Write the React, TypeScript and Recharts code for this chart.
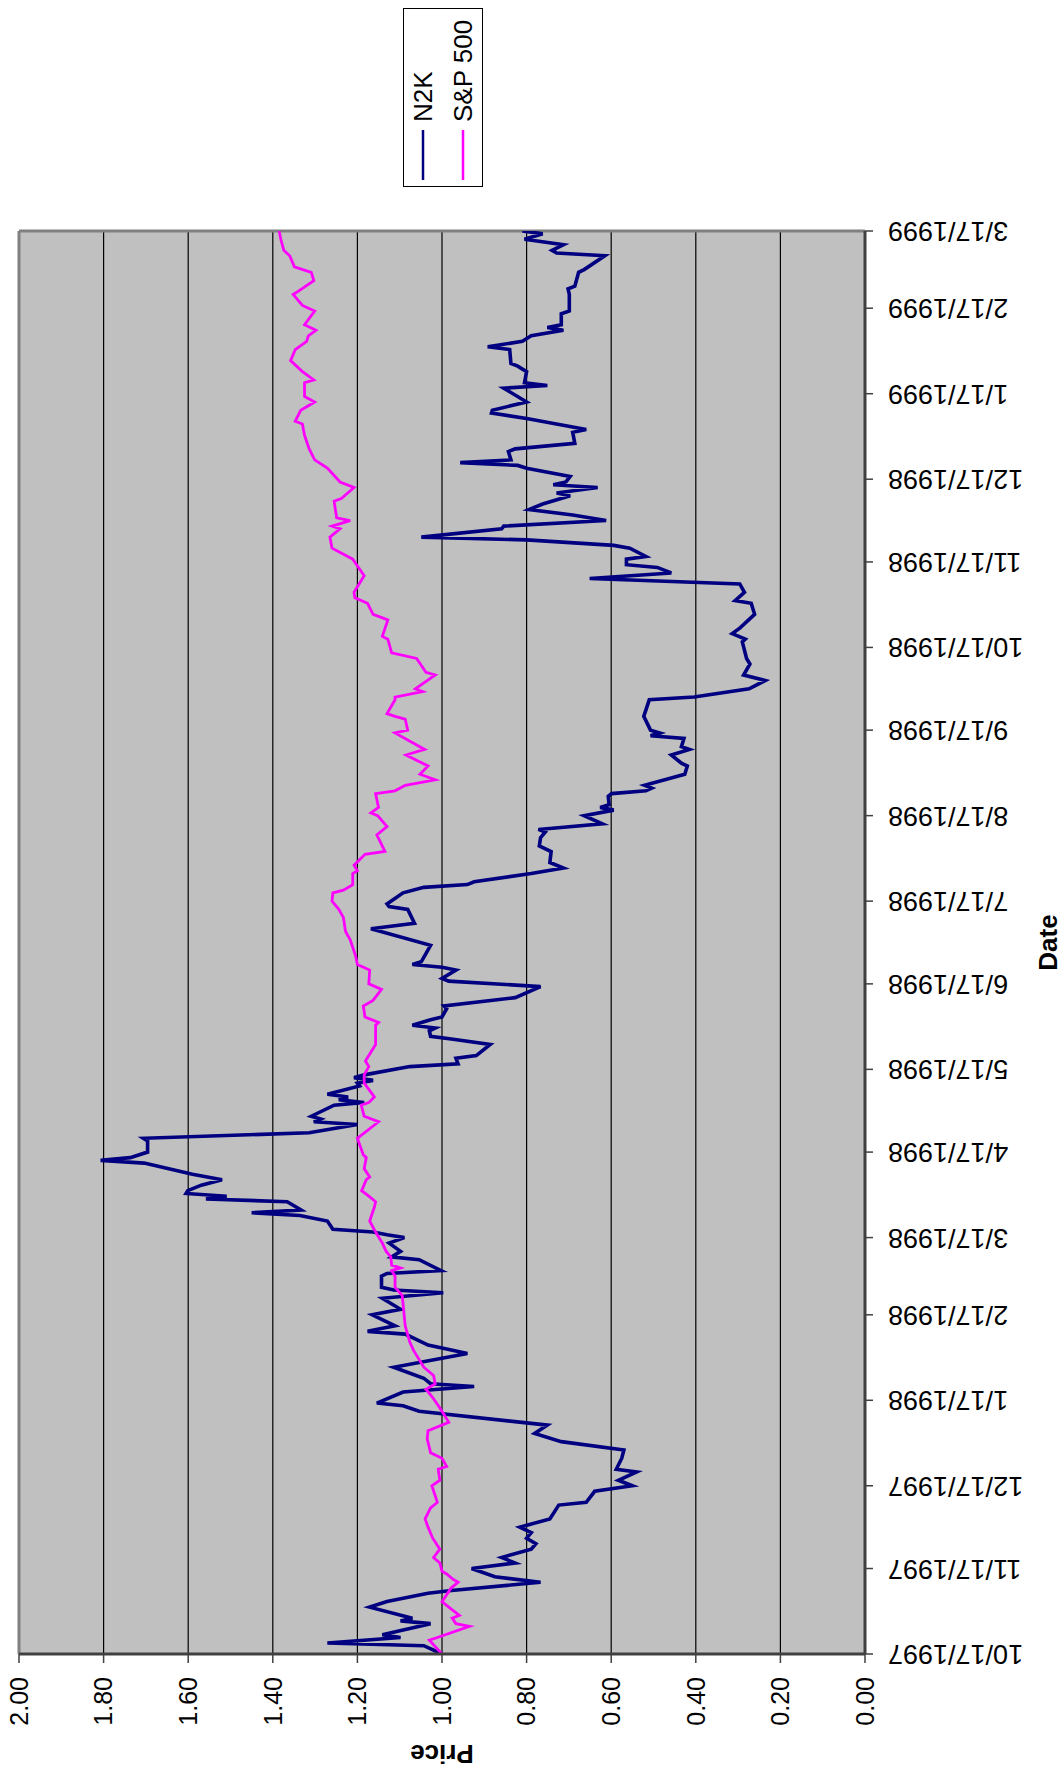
import { LineChart, Line, XAxis, YAxis, CartesianGrid, ReferenceLine } from "recharts";

// month ticks on the date axis
const DATE_TICKS = [
  "10/17/1997", "11/17/1997", "12/17/1997", "1/17/1998", "2/17/1998", "3/17/1998",
  "4/17/1998", "5/17/1998", "6/17/1998", "7/17/1998", "8/17/1998", "9/17/1998",
  "10/17/1998", "11/17/1998", "12/17/1998", "1/17/1999", "2/17/1999", "3/17/1999",
];

const PRICE_TICKS = [0, 0.2, 0.4, 0.6, 0.8, 1.0, 1.2, 1.4, 1.6, 1.8, 2.0];

// [date, relative price] read off the chart
const N2K: [string, number][] = [
  ["10/17/1997", 1.0], ["10/20/1997", 1.043], ["10/21/1997", 1.271], ["10/23/1997", 1.098],
  ["10/24/1997", 1.141], ["10/28/1997", 1.027], ["10/29/1997", 1.098], ["10/30/1997", 1.07],
  ["11/3/1997", 1.171], ["11/5/1997", 1.13], ["11/8/1997", 1.033], ["11/9/1997", 0.978],
  ["11/12/1997", 0.767], ["11/14/1997", 0.875], ["11/17/1997", 0.93], ["11/19/1997", 0.827],
  ["11/21/1997", 0.859], ["11/24/1997", 0.789], ["11/26/1997", 0.778], ["11/28/1997", 0.8],
  ["11/30/1997", 0.789], ["12/2/1997", 0.816], ["12/5/1997", 0.745], ["12/10/1997", 0.724],
  ["12/11/1997", 0.659], ["12/15/1997", 0.639], ["12/17/1997", 0.55], ["12/19/1997", 0.583],
  ["12/22/1997", 0.54], ["12/23/1997", 0.588], ["12/27/1997", 0.575], ["12/30/1997", 0.57],
  ["1/2/1998", 0.718], ["1/5/1998", 0.781], ["1/8/1998", 0.751], ["1/13/1998", 1.054],
  ["1/15/1998", 1.092], ["1/16/1998", 1.154], ["1/20/1998", 1.092], ["1/22/1998", 0.924],
  ["1/23/1998", 1.027], ["1/25/1998", 1.043], ["1/29/1998", 1.114], ["2/3/1998", 0.94],
  ["2/5/1998", 1.0], ["2/6/1998", 1.033], ["2/10/1998", 1.087], ["2/11/1998", 1.176],
  ["2/13/1998", 1.111], ["2/17/1998", 1.165], ["2/19/1998", 1.098], ["2/23/1998", 1.141],
  ["2/25/1998", 0.997], ["2/26/1998", 1.114], ["2/27/1998", 1.143], ["3/3/1998", 1.143],
  ["3/4/1998", 1.13], ["3/5/1998", 1.002], ["3/9/1998", 1.054], ["3/10/1998", 1.119],
  ["3/12/1998", 1.098], ["3/15/1998", 1.125], ["3/17/1998", 1.089], ["3/18/1998", 1.13],
  ["3/19/1998", 1.163], ["3/20/1998", 1.258], ["3/23/1998", 1.271], ["3/25/1998", 1.336],
  ["3/26/1998", 1.45], ["3/27/1998", 1.333], ["3/30/1998", 1.366], ["3/31/1998", 1.558],
  ["4/1/1998", 1.509], ["4/2/1998", 1.605], ["4/3/1998", 1.601], ["4/5/1998", 1.569],
  ["4/7/1998", 1.52], ["4/9/1998", 1.59], ["4/13/1998", 1.704], ["4/14/1998", 1.807],
  ["4/15/1998", 1.737], ["4/17/1998", 1.696], ["4/21/1998", 1.696], ["4/22/1998", 1.706],
  ["4/24/1998", 1.314], ["4/27/1998", 1.2], ["4/28/1998", 1.303], ["4/29/1998", 1.287],
  ["4/30/1998", 1.309], ["5/4/1998", 1.255], ["5/5/1998", 1.184], ["5/6/1998", 1.244],
  ["5/7/1998", 1.222], ["5/8/1998", 1.271], ["5/11/1998", 1.195], ["5/12/1998", 1.2],
  ["5/13/1998", 1.163], ["5/14/1998", 1.208], ["5/15/1998", 1.184], ["5/18/1998", 1.076],
  ["5/19/1998", 0.962], ["5/21/1998", 0.967], ["5/22/1998", 0.919], ["5/26/1998", 0.886],
  ["5/28/1998", 0.978], ["5/29/1998", 1.027], ["5/31/1998", 1.03], ["6/1/1998", 1.016],
  ["6/2/1998", 1.07], ["6/4/1998", 1.027], ["6/5/1998", 1.0], ["6/8/1998", 0.989],
  ["6/9/1998", 0.995], ["6/12/1998", 0.827], ["6/16/1998", 0.767], ["6/18/1998", 0.984],
  ["6/19/1998", 1.0], ["6/22/1998", 0.967], ["6/23/1998", 1.0], ["6/24/1998", 1.07],
  ["6/25/1998", 1.049], ["7/1/1998", 1.027], ["7/7/1998", 1.168], ["7/9/1998", 1.065],
  ["7/14/1998", 1.081], ["7/15/1998", 1.125], ["7/16/1998", 1.13], ["7/20/1998", 1.092],
  ["7/22/1998", 1.043], ["7/23/1998", 0.94], ["7/24/1998", 0.924], ["7/27/1998", 0.789],
  ["7/29/1998", 0.713], ["7/31/1998", 0.745], ["8/4/1998", 0.742], ["8/6/1998", 0.77],
  ["8/9/1998", 0.767], ["8/11/1998", 0.756], ["8/12/1998", 0.772], ["8/14/1998", 0.621],
  ["8/17/1998", 0.664], ["8/19/1998", 0.594], ["8/20/1998", 0.626], ["8/21/1998", 0.605],
  ["8/24/1998", 0.607], ["8/25/1998", 0.599], ["8/26/1998", 0.518], ["8/27/1998", 0.504],
  ["8/28/1998", 0.521], ["9/1/1998", 0.426], ["9/4/1998", 0.42], ["9/5/1998", 0.434],
  ["9/8/1998", 0.458], ["9/10/1998", 0.415], ["9/11/1998", 0.434], ["9/14/1998", 0.428],
  ["9/15/1998", 0.507], ["9/16/1998", 0.485], ["9/17/1998", 0.507], ["9/22/1998", 0.523],
  ["9/28/1998", 0.51], ["9/29/1998", 0.404], ["10/2/1998", 0.274], ["10/5/1998", 0.236],
  ["10/7/1998", 0.287], ["10/11/1998", 0.272], ["10/13/1998", 0.28], ["10/19/1998", 0.29],
  ["10/20/1998", 0.283], ["10/22/1998", 0.314], ["10/24/1998", 0.296], ["10/29/1998", 0.261],
  ["11/2/1998", 0.269], ["11/3/1998", 0.307], ["11/6/1998", 0.285], ["11/9/1998", 0.296],
  ["11/11/1998", 0.651], ["11/13/1998", 0.458], ["11/15/1998", 0.491], ["11/16/1998", 0.564],
  ["11/18/1998", 0.564], ["11/19/1998", 0.518], ["11/22/1998", 0.556], ["11/23/1998", 0.594],
  ["11/25/1998", 0.8], ["11/26/1998", 1.049], ["11/29/1998", 0.859], ["11/30/1998", 0.854],
  ["12/2/1998", 0.612], ["12/4/1998", 0.691], ["12/6/1998", 0.794], ["12/8/1998", 0.762],
  ["12/11/1998", 0.697], ["12/12/1998", 0.729], ["12/14/1998", 0.632], ["12/15/1998", 0.737],
  ["12/16/1998", 0.707], ["12/18/1998", 0.697], ["12/21/1998", 0.8], ["12/22/1998", 0.821],
  ["12/23/1998", 0.957], ["12/24/1998", 0.837], ["12/27/1998", 0.843], ["12/28/1998", 0.827],
  ["12/30/1998", 0.686], ["1/3/1999", 0.691], ["1/4/1999", 0.659], ["1/8/1999", 0.8],
  ["1/10/1999", 0.883], ["1/11/1999", 0.881], ["1/14/1999", 0.8], ["1/19/1999", 0.854],
  ["1/20/1999", 0.751], ["1/21/1999", 0.805], ["1/25/1999", 0.8], ["1/27/1999", 0.821],
  ["1/28/1999", 0.837], ["2/2/1999", 0.84], ["2/3/1999", 0.892], ["2/5/1999", 0.81],
  ["2/7/1999", 0.789], ["2/9/1999", 0.713], ["2/10/1999", 0.751], ["2/11/1999", 0.718],
  ["2/15/1999", 0.718], ["2/16/1999", 0.699], ["2/22/1999", 0.699], ["2/24/1999", 0.702],
  ["2/25/1999", 0.686], ["3/2/1999", 0.677], ["3/3/1999", 0.664], ["3/8/1999", 0.615],
  ["3/9/1999", 0.729], ["3/10/1999", 0.74], ["3/12/1999", 0.713], ["3/14/1999", 0.805],
  ["3/16/1999", 0.762], ["3/17/1999", 0.81],
];

const SP500: [string, number][] = [
  ["10/17/1997", 1.0], ["10/22/1997", 1.03], ["10/23/1997", 1.011], ["10/27/1997", 0.935],
  ["10/28/1997", 0.967], ["10/30/1997", 0.976], ["10/31/1997", 0.959], ["11/3/1997", 0.984],
  ["11/5/1997", 1.0], ["11/10/1997", 0.978], ["11/12/1997", 0.962], ["11/13/1997", 0.973],
  ["11/15/1997", 0.989], ["11/16/1997", 1.0], ["11/19/1997", 1.005], ["11/21/1997", 1.02],
  ["11/24/1997", 1.005], ["11/28/1997", 1.022], ["12/2/1997", 1.033], ["12/5/1997", 1.04],
  ["12/9/1997", 1.027], ["12/11/1997", 1.011], ["12/17/1997", 1.024], ["12/19/1997", 1.005],
  ["12/23/1997", 1.009], ["12/24/1997", 0.989], ["12/27/1997", 1.0], ["12/29/1997", 1.027],
  ["1/3/1998", 1.035], ["1/6/1998", 1.033], ["1/9/1998", 0.984], ["1/13/1998", 1.0],
  ["1/16/1998", 1.013], ["1/18/1998", 1.022], ["1/21/1998", 1.038], ["1/23/1998", 1.016],
  ["1/26/1998", 1.02], ["1/29/1998", 1.043], ["2/4/1998", 1.067], ["2/7/1998", 1.076],
  ["2/13/1998", 1.087], ["2/24/1998", 1.094], ["2/27/1998", 1.111], ["3/3/1998", 1.111],
  ["3/5/1998", 1.119], ["3/6/1998", 1.098], ["3/7/1998", 1.119], ["3/10/1998", 1.121],
  ["3/12/1998", 1.132], ["3/15/1998", 1.141], ["3/19/1998", 1.157], ["3/23/1998", 1.171],
  ["3/28/1998", 1.16], ["3/30/1998", 1.157], ["4/1/1998", 1.173], ["4/3/1998", 1.19],
  ["4/7/1998", 1.179], ["4/8/1998", 1.171], ["4/11/1998", 1.184], ["4/15/1998", 1.179],
  ["4/16/1998", 1.186], ["4/22/1998", 1.2], ["4/28/1998", 1.15], ["4/30/1998", 1.184],
  ["5/4/1998", 1.191], ["5/5/1998", 1.173], ["5/7/1998", 1.16], ["5/12/1998", 1.184],
  ["5/15/1998", 1.184], ["5/18/1998", 1.173], ["5/20/1998", 1.181], ["5/26/1998", 1.157],
  ["6/2/1998", 1.157], ["6/3/1998", 1.15], ["6/5/1998", 1.182], ["6/9/1998", 1.186],
  ["6/11/1998", 1.163], ["6/15/1998", 1.143], ["6/17/1998", 1.173], ["6/22/1998", 1.171],
  ["6/24/1998", 1.2], ["6/27/1998", 1.204], ["7/3/1998", 1.217], ["7/6/1998", 1.228],
  ["7/11/1998", 1.233], ["7/14/1998", 1.244], ["7/17/1998", 1.26], ["7/20/1998", 1.258],
  ["7/21/1998", 1.233], ["7/23/1998", 1.211], ["7/27/1998", 1.211], ["7/28/1998", 1.2],
  ["7/30/1998", 1.208], ["8/3/1998", 1.182], ["8/4/1998", 1.135], ["8/10/1998", 1.154],
  ["8/13/1998", 1.13], ["8/17/1998", 1.152], ["8/18/1998", 1.168], ["8/20/1998", 1.15],
  ["8/25/1998", 1.157], ["8/26/1998", 1.111], ["8/28/1998", 1.087], ["8/30/1998", 1.016],
  ["9/1/1998", 1.052], ["9/4/1998", 1.033], ["9/8/1998", 1.085], ["9/10/1998", 1.041],
  ["9/16/1998", 1.111], ["9/17/1998", 1.081], ["9/21/1998", 1.087], ["9/22/1998", 1.111],
  ["9/23/1998", 1.13], ["9/28/1998", 1.111], ["9/29/1998", 1.111], ["10/1/1998", 1.046],
  ["10/2/1998", 1.063], ["10/7/1998", 1.016], ["10/8/1998", 1.038], ["10/13/1998", 1.06],
  ["10/15/1998", 1.119], ["10/20/1998", 1.128], ["10/21/1998", 1.141], ["10/27/1998", 1.128],
  ["10/29/1998", 1.163], ["11/2/1998", 1.176], ["11/4/1998", 1.206], ["11/6/1998", 1.208],
  ["11/12/1998", 1.184], ["11/18/1998", 1.211], ["11/22/1998", 1.26], ["11/26/1998", 1.265],
  ["11/29/1998", 1.241], ["11/30/1998", 1.26], ["12/2/1998", 1.217], ["12/3/1998", 1.249],
  ["12/9/1998", 1.255], ["12/10/1998", 1.238], ["12/14/1998", 1.208], ["12/16/1998", 1.241],
  ["12/21/1998", 1.271], ["12/24/1998", 1.301], ["12/28/1998", 1.314], ["1/2/1999", 1.325],
  ["1/6/1999", 1.33], ["1/7/1999", 1.347], ["1/11/1999", 1.334], ["1/14/1999", 1.301],
  ["1/16/1999", 1.325], ["1/21/1999", 1.325], ["1/22/1999", 1.303], ["1/25/1999", 1.33],
  ["1/29/1999", 1.358], ["2/2/1999", 1.347], ["2/5/1999", 1.32], ["2/7/1999", 1.316],
  ["2/9/1999", 1.298], ["2/11/1999", 1.325], ["2/16/1999", 1.301], ["2/18/1999", 1.33],
  ["2/22/1999", 1.352], ["2/23/1999", 1.341], ["2/27/1999", 1.303], ["3/2/1999", 1.309],
  ["3/4/1999", 1.349], ["3/8/1999", 1.36], ["3/10/1999", 1.374], ["3/14/1999", 1.381],
  ["3/17/1999", 1.385],
];

const toTime = (s: string) => {
  const [m, d, y] = s.split("/").map(Number);
  return Date.UTC(y, m - 1, d);
};
const fmtDate = (t: number) => {
  const d = new Date(t);
  return `${d.getUTCMonth() + 1}/${d.getUTCDate()}/${d.getUTCFullYear()}`;
};

const tickTimes = DATE_TICKS.map(toTime);
const n2kData = N2K.map(([date, v]) => ({ t: toTime(date), v }));
const spData = SP500.map(([date, v]) => ({ t: toTime(date), v }));

// the chart is drawn upright, then the whole box is turned a quarter to the left
const W = 1775;
const H = 1062;
const FONT = "Arial, 'Liberation Sans', sans-serif";
const PLOT_LEFT = 121;
const PLOT_RIGHT = 1544;
const PLOT_TOP = 19;
const PLOT_BOTTOM = 865;

const DateTick = ({ x, y, payload }: any) => (
  <text
    x={x}
    y={y + 13}
    transform={`rotate(-90, ${x}, ${y + 13})`}
    textAnchor="end"
    dominantBaseline="central"
    fontSize={27}
    fontFamily={FONT}
    fill="#000"
  >
    {fmtDate(payload.value)}
  </text>
);

const DateTitle = () => (
  <text
    x={(PLOT_LEFT + PLOT_RIGHT) / 2}
    y={1048}
    textAnchor="middle"
    dominantBaseline="central"
    fontSize={26}
    fontWeight="bold"
    fontFamily={FONT}
    fill="#000"
  >
    Date
  </text>
);

const PriceTitle = () => {
  const cx = 21;
  const cy = (PLOT_TOP + PLOT_BOTTOM) / 2;
  return (
    <text
      x={cx}
      y={cy}
      transform={`rotate(-90, ${cx}, ${cy})`}
      textAnchor="middle"
      dominantBaseline="central"
      fontSize={26}
      fontWeight="bold"
      fontFamily={FONT}
      fill="#000"
    >
      Price
    </text>
  );
};

function LegendBox() {
  return (
    <div
      style={{
        position: "absolute",
        left: 1588,
        top: 403,
        width: 179,
        height: 80,
        border: "1.5px solid #000",
        boxSizing: "border-box",
        background: "#fff",
      }}
    >
      <svg width={176} height={77} style={{ display: "block" }}>
        <line x1={6} x2={56} y1={19} y2={19} stroke="#000080" strokeWidth={2.5} />
        <text x={64} y={19} dominantBaseline="central" fontSize={26} fontFamily={FONT} fill="#000">
          N2K
        </text>
        <line x1={6} x2={56} y1={59} y2={59} stroke="#FF00FF" strokeWidth={2.5} />
        <text x={64} y={59} dominantBaseline="central" fontSize={26} fontFamily={FONT} fill="#000">
          S&amp;P 500
        </text>
      </svg>
    </div>
  );
}

export default function App() {
  const start = tickTimes[0];
  const end = tickTimes[tickTimes.length - 1];
  return (
    <div
      style={{
        position: "absolute",
        left: 0,
        top: 0,
        width: H,
        height: W,
        overflow: "hidden",
        background: "#fff",
      }}
    >
      <div
        style={{
          position: "absolute",
          left: 0,
          top: 0,
          width: W,
          height: H,
          transformOrigin: "0 0",
          transform: `translate(0px, ${W}px) rotate(-90deg)`,
        }}
      >
        <LineChart
          width={W}
          height={H}
          margin={{ top: PLOT_TOP, right: W - PLOT_RIGHT, bottom: 0, left: PLOT_LEFT - 80 }}
          style={{ fontFamily: FONT }}
        >
          <CartesianGrid vertical={false} stroke="#000" strokeWidth={1.2} fill="#C0C0C0" fillOpacity={1} />
          <XAxis
            type="number"
            dataKey="t"
            domain={[start, end]}
            ticks={tickTimes}
            interval={0}
            allowDataOverflow
            height={H - PLOT_BOTTOM}
            tickSize={8}
            tick={<DateTick />}
            axisLine={{ stroke: "#404040", strokeWidth: 3 }}
            tickLine={{ stroke: "#404040", strokeWidth: 1.5 }}
            label={{ content: () => <DateTitle /> }}
          />
          <YAxis
            type="number"
            domain={[0, 2]}
            ticks={PRICE_TICKS}
            interval={0}
            width={80}
            tickSize={9}
            tickMargin={14}
            tickFormatter={(v: number) => v.toFixed(2)}
            tick={{ fontSize: 25, fill: "#000", fontFamily: FONT }}
            axisLine={{ stroke: "#404040", strokeWidth: 3 }}
            tickLine={{ stroke: "#404040", strokeWidth: 1.5 }}
            label={{ content: () => <PriceTitle /> }}
          />
          <ReferenceLine y={2} stroke="#808080" strokeWidth={3} />
          <ReferenceLine x={end} stroke="#808080" strokeWidth={3} />
          <Line
            data={n2kData}
            dataKey="v"
            name="N2K"
            type="linear"
            stroke="#000080"
            strokeWidth={3.6}
            dot={false}
            isAnimationActive={false}
          />
          <Line
            data={spData}
            dataKey="v"
            name="S&P 500"
            type="linear"
            stroke="#FF00FF"
            strokeWidth={2.8}
            dot={false}
            isAnimationActive={false}
          />
        </LineChart>
        <LegendBox />
      </div>
    </div>
  );
}
